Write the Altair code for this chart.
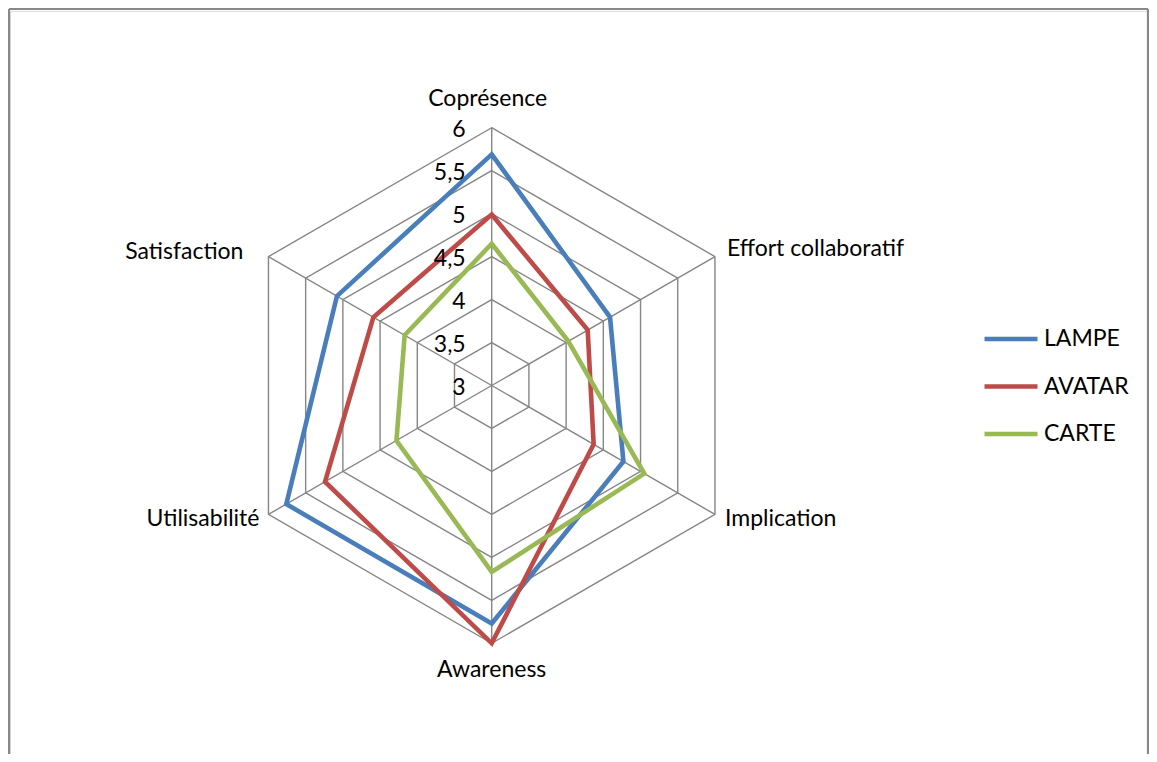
import altair as alt
import pandas as pd

# ---- data ----
categories = ["Coprésence", "Effort collaboratif", "Implication",
              "Awareness", "Utilisabilité", "Satisfaction"]
series_names = ["LAMPE", "AVATAR", "CARTE"]
lampe = [5.69, 4.59, 4.77, 5.77, 5.76, 5.08]
avatar = [4.99, 4.29, 4.37, 6.00, 5.24, 4.59]
carte = [4.65, 4.03, 5.05, 5.17, 4.28, 4.17]
tick_values = [3, 3.5, 4, 4.5, 5, 5.5, 6]
tick_labels = ["3", "3,5", "4", "4,5", "5", "5,5", "6"]
series_colors = ["#4A7EBB", "#BE4B48", "#98B954"]

# ---- layout ----
PAD_L, PAD_T = 2, 3
W, H = 1139, 743
PX = 85.93               # pixels per scale unit
CX, CY = 481.7, 374.5    # centre of the radar in view pixels
R0 = tick_values[0]
FONT = "Lato"
FS = 23
GRID = "#868686"

x_scale = alt.Scale(domain=[-CX / PX, (W - CX) / PX], nice=False, zero=False)
y_scale = alt.Scale(domain=[-(H - CY) / PX, CY / PX], nice=False, zero=False)

n = len(categories)
# closed paths: walk all categories, then repeat first two so the start vertex gets a proper join
path_idx = list(range(n)) + [0, 1]

rows = []
for name, vals in zip(series_names, [lampe, avatar, carte]):
    for k, i in enumerate(path_idx):
        rows.append({"series": name, "i": i, "ord": k, "v": vals[i]})
series_df = pd.DataFrame(rows)

grid_rows = []
for lv in tick_values[1:]:
    for k, i in enumerate(path_idx):
        grid_rows.append({"level": lv, "i": i, "ord": k, "v": lv})
grid_df = pd.DataFrame(grid_rows)

spoke_df = pd.DataFrame({"i": list(range(n)), "v": [tick_values[-1]] * n})
tick_df = pd.DataFrame({"v": tick_values, "label": tick_labels})
cat_df = pd.DataFrame({"i": list(range(n)), "cat": categories, "v": [tick_values[-1]] * n})

xy_x = f"(datum.v - {R0}) * sin(datum.i * PI / 3)"
xy_y = f"(datum.v - {R0}) * cos(datum.i * PI / 3)"

X = lambda f: alt.X(f, type="quantitative", scale=x_scale, axis=None)
Y = lambda f: alt.Y(f, type="quantitative", scale=y_scale, axis=None)

grid = alt.Chart(grid_df).transform_calculate(x=xy_x, y=xy_y).mark_line(
    color=GRID, strokeWidth=1.4, strokeJoin="miter"
).encode(x=X("x"), y=Y("y"), detail="level:N", order="ord:Q")

spokes = alt.Chart(spoke_df).transform_calculate(
    x=xy_x, y=xy_y, x0="0", y0="0"
).mark_rule(color=GRID, strokeWidth=1.4).encode(
    x=X("x0"), y=Y("y0"), x2="x:Q", y2="y:Q"
)

lines = alt.Chart(series_df).transform_calculate(x=xy_x, y=xy_y).mark_line(
    strokeWidth=4.6, strokeJoin="miter"
).encode(
    x=X("x"), y=Y("y"), order="ord:Q",
    color=alt.Color(
        "series:N",
        scale=alt.Scale(domain=series_names, range=series_colors),
        legend=alt.Legend(
            title=None, orient="none", legendX=972, legendY=299,
            symbolType="stroke", symbolSize=2809, symbolStrokeWidth=4.6,
            labelFont=FONT, labelFontSize=FS, labelColor="black",
            labelOffset=4, rowPadding=6.5,
        ),
    ),
)

ticks = alt.Chart(tick_df).transform_calculate(
    x="0", y=f"datum.v - {R0}"
).mark_text(align="right", baseline="middle", dx=-26, dy=2,
            font=FONT, fontSize=FS, color="black").encode(
    x=X("x"), y=Y("y"), text="label:N"
)

# per-label placement (align, dx, dy) relative to the outer end of each spoke
label_place = {
    0: ("center", -4, -22),
    1: ("left", 12, -1),
    2: ("left", 10, 12),
    3: ("center", 0, 34),
    4: ("right", -9, 12),
    5: ("right", -25, 2),
}
cat_layers = []
for i, (al, dx, dy) in label_place.items():
    cat_layers.append(
        alt.Chart(cat_df).transform_filter(f"datum.i == {i}")
        .transform_calculate(x=xy_x, y=xy_y)
        .mark_text(align=al, baseline="alphabetic", dx=dx, dy=dy,
                   font=FONT, fontSize=FS, color="black")
        .encode(x=X("x"), y=Y("y"), text="cat:N")
    )

frame_data = alt.Data(values=[{"a": 1}])
FR = "#888888"
TOP = -PAD_T + 1
LEFT = -PAD_L + 1
frame = [
    alt.Chart(frame_data).mark_rule(color=FR, strokeWidth=2.2).encode(
        x=alt.value(LEFT), y=alt.value(TOP), y2=alt.value(H)),
    alt.Chart(frame_data).mark_rule(color=FR, strokeWidth=2.2).encode(
        x=alt.value(LEFT), x2=alt.value(W - 1), y=alt.value(TOP)),
    alt.Chart(frame_data).mark_rule(color=FR, strokeWidth=2.2).encode(
        x=alt.value(W - 1), y=alt.value(TOP), y2=alt.value(H)),
]

chart = alt.layer(grid, spokes, lines, ticks, *cat_layers, *frame).properties(
    width=W, height=H,
    padding={"left": PAD_L, "top": PAD_T, "right": 0, "bottom": 0},
    autosize=alt.AutoSizeParams(type="none"),
).configure_view(stroke=None).configure(font=FONT)

chart.save("out.html", embed_options={"renderer": "svg", "actions": False})
